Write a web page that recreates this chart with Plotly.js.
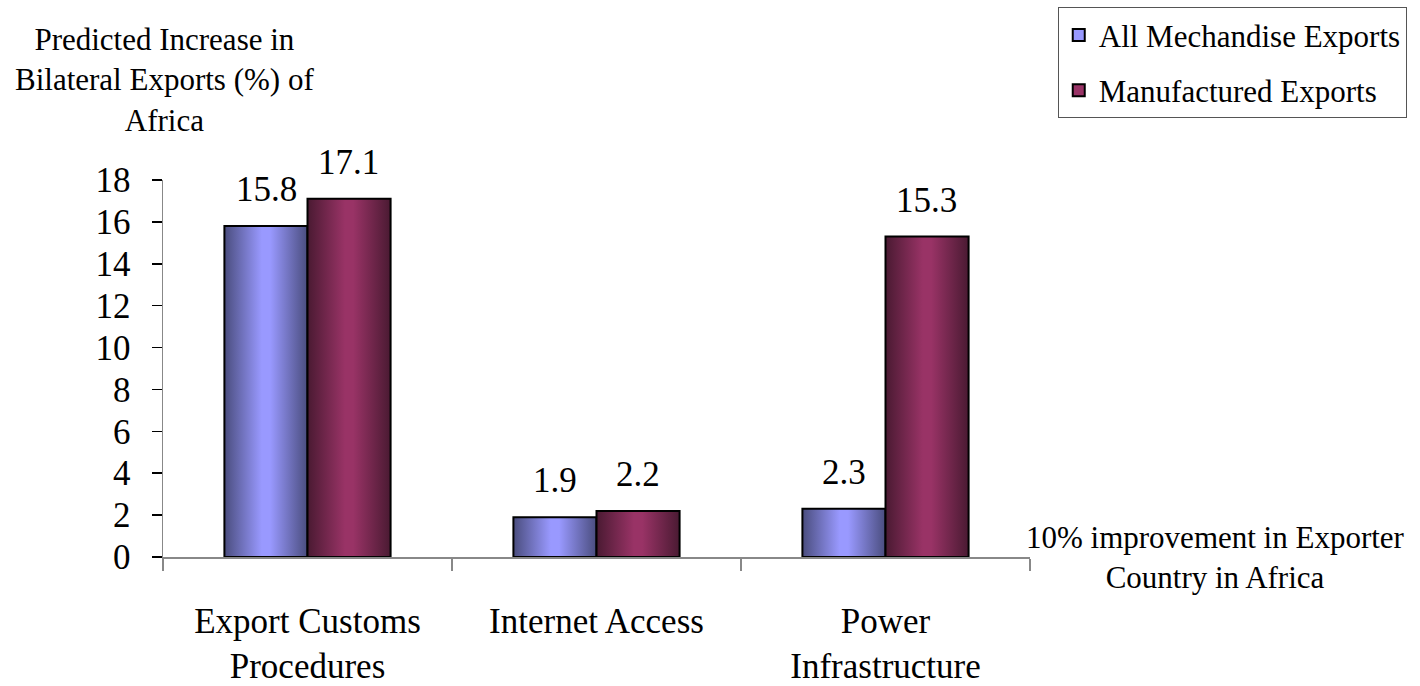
<!DOCTYPE html>
<html>
<head>
<meta charset="utf-8">
<script src="https://cdn.plot.ly/plotly-3.0.1.min.js"></script>
<style>html,body{margin:0;padding:0;background:#fff;}#chart{width:1420px;height:686px;}</style>
</head>
<body>
<div id="chart"></div>
<script>
const categories = ["Export Customs<br>Procedures", "Internet Access", "Power<br>Infrastructure"];
const seriesNames = ["All Mechandise Exports", "Manufactured Exports"];
const allMerchandise = [15.8, 1.9, 2.3];
const manufactured = [17.1, 2.2, 15.3];
const yTicks = [0, 2, 4, 6, 8, 10, 12, 14, 16, 18];

const FONT = "'Liberation Serif', serif";
const colors = ["#9999ff", "#993366"];

const traces = [allMerchandise, manufactured].map((vals, i) => ({
  type: "bar",
  name: seriesNames[i],
  legendgroup: "g" + i,
  x: categories,
  y: vals,
  marker: {color: colors[i], line: {color: "#000", width: 2}},
  hoverinfo: "none"
}));

const annotations = [];
[allMerchandise, manufactured].forEach((vals, i) => {
  vals.forEach((v, j) => {
    annotations.push({
      x: j + (i === 0 ? -0.1435 : 0.1435), xref: "x", y: v, yref: "y",
      text: v.toFixed(1), showarrow: false, yanchor: "bottom", yshift: 15,
      font: {family: FONT, size: 35, color: "#000"}
    });
  });
});
annotations.push({
  xref: "paper", yref: "paper", x: 0.0023, y: 1.265, xanchor: "center", yanchor: "middle",
  text: "Predicted Increase in<br>Bilateral Exports (%) of<br>Africa", showarrow: false,
  font: {family: FONT, size: 31, color: "#000"}
});
annotations.push({
  xref: "paper", yref: "paper", x: 1.2145, y: 0.0, xanchor: "center", yanchor: "middle",
  text: "10% improvement in Exporter<br>Country in Africa", showarrow: false,
  font: {family: FONT, size: 31, color: "#000"}
});

const layout = {
  width: 1420, height: 686,
  margin: {l: 163, r: 390, t: 180, b: 129, autoexpand: false},
  paper_bgcolor: "#fff", plot_bgcolor: "#fff",
  barmode: "group", bargap: 0.425, bargroupgap: 0,
  font: {family: FONT, color: "#000"},
  showlegend: true,
  legend: {
    x: 1.032, y: 1.458, xanchor: "left", yanchor: "top",
    bordercolor: "#555", borderwidth: 1, bgcolor: "#fff",
    font: {family: FONT, size: 31, color: "#000"},
    tracegroupgap: 12, itemwidth: 30
  },
  xaxis: {
    type: "category", showline: true, linecolor: "#888", linewidth: 1.5,
    ticks: "outside", tickson: "boundaries", ticklen: 12, tickcolor: "#888", tickwidth: 1.5,
    tickfont: {family: FONT, size: 35, color: "#000"}, ticklabelstandoff: 32,
    showgrid: false, zeroline: false, fixedrange: true
  },
  yaxis: {
    range: [0, 18], tickvals: yTicks, ticktext: yTicks.map(String),
    showline: true, linecolor: "#888", linewidth: 1.5,
    ticks: "outside", ticklen: 10, tickcolor: "#000", tickwidth: 1.5,
    tickfont: {family: FONT, size: 35, color: "#000"}, ticklabelstandoff: 14,
    showgrid: false, zeroline: false, fixedrange: true
  },
  annotations: annotations
};

Plotly.newPlot("chart", traces, layout, {staticPlot: true}).then(gd => {
  const svg = gd.querySelector("svg.main-svg");
  const ns = "http://www.w3.org/2000/svg";
  let defs = svg.querySelector("defs");
  if (!defs) { defs = document.createElementNS(ns, "defs"); svg.insertBefore(defs, svg.firstChild); }
  const grads = [
    {id: "gBlue", stops: [["0%", "#4a4d7e"], ["45%", "#9999ff"], ["55%", "#9999ff"], ["100%", "#4a4d7e"]]},
    {id: "gRed", stops: [["0%", "#4a1a32"], ["45%", "#993366"], ["55%", "#993366"], ["100%", "#4a1a32"]]}
  ];
  grads.forEach(g => {
    const lg = document.createElementNS(ns, "linearGradient");
    lg.setAttribute("id", g.id);
    lg.setAttribute("x1", "0"); lg.setAttribute("x2", "1");
    lg.setAttribute("y1", "0"); lg.setAttribute("y2", "0");
    g.stops.forEach(s => {
      const st = document.createElementNS(ns, "stop");
      st.setAttribute("offset", s[0]); st.setAttribute("stop-color", s[1]);
      lg.appendChild(st);
    });
    defs.appendChild(lg);
  });
  gd.querySelectorAll("g.trace.bars").forEach((tr, i) => {
    tr.querySelectorAll("g.point path").forEach(p => { p.style.fill = "url(#" + grads[i].id + ")"; });
  });
});
</script>
</body>
</html>
